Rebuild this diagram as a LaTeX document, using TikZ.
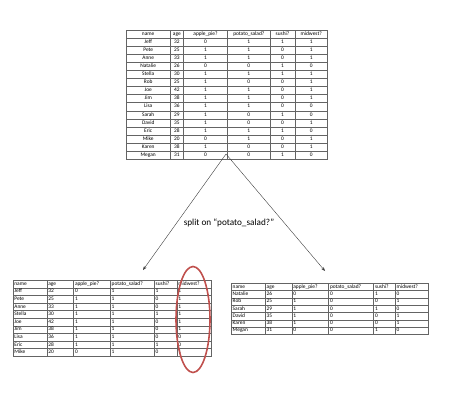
\documentclass[tikz,border=0pt]{standalone}
\usepackage{fontspec}
\setmainfont{Carlito}
\usetikzlibrary{matrix,arrows.meta}

\definecolor{gridgray}{RGB}{100,100,100}
\definecolor{ringred}{RGB}{192,80,77}
\definecolor{arrowgray}{RGB}{60,60,60}

\tikzset{
  datatable/.style={matrix of nodes, inner sep=0pt, outer sep=0pt,
    column sep=-0.4pt, row sep=-0.4pt,
    nodes={draw=gridgray, line width=0.4pt, inner sep=0pt, inner xsep=1.5pt,
      text height=3.7pt, text depth=1.1pt,
      font=\fontsize{5.4}{5.4}\selectfont, anchor=center}},
  cellalign/.style={nodes={align=#1}},
  colw/.style 2 args={column #1/.style={nodes={text width=#2pt-3pt}}},
  splitarrow/.style={draw=arrowgray, line width=0.4pt, -{Stealth[length=4pt,width=3pt]}},
  ring/.style={draw=ringred, line width=1.6pt}
}

\begin{document}
\begin{tikzpicture}[x=1pt, y=-1pt]
  \useasboundingbox (0,0) rectangle (454,404);
  \coordinate (A) at (226,154);
  \coordinate (B) at (143,270);
  \coordinate (C) at (325,271);

  \matrix (all) [datatable, cellalign=center, anchor=north west,
    nodes={minimum height=8.1pt},
    colw={1}{44}, colw={2}{13.3}, colw={3}{44}, colw={4}{42.7}, colw={5}{24.7}, colw={6}{32.6}]
    at (126,29.5) {
    name & age & apple\_pie? & potato\_salad? & sushi? & midwest? \\
    Jeff & 32 & 0 & 1 & 1 & 1 \\
    Pete & 25 & 1 & 1 & 0 & 1 \\
    Anne & 33 & 1 & 1 & 0 & 1 \\
    Natalie & 26 & 0 & 0 & 1 & 0 \\
    Stella & 30 & 1 & 1 & 1 & 1 \\
    Rob & 25 & 1 & 0 & 0 & 1 \\
    Joe & 42 & 1 & 1 & 0 & 1 \\
    Jim & 38 & 1 & 1 & 0 & 1 \\
    Lisa & 36 & 1 & 1 & 0 & 0 \\
    Sarah & 29 & 1 & 0 & 1 & 0 \\
    David & 35 & 1 & 0 & 0 & 1 \\
    Eric & 28 & 1 & 1 & 1 & 0 \\
    Mike & 20 & 0 & 1 & 0 & 1 \\
    Karen & 38 & 1 & 0 & 0 & 1 \\
    Megan & 31 & 0 & 0 & 1 & 0 \\
  };

  \matrix (yes) [datatable, cellalign=left, anchor=north west,
    nodes={minimum height=7.6pt},
    colw={1}{34}, colw={2}{26.6}, colw={3}{36.7}, colw={4}{44}, colw={5}{22.7}, colw={6}{34}]
    at (12.7,280) {
    name & age & apple\_pie? & potato\_salad? & sushi? & midwest? \\
    Jeff & 32 & 0 & 1 & 1 & 1 \\
    Pete & 25 & 1 & 1 & 0 & 1 \\
    Anne & 33 & 1 & 1 & 0 & 1 \\
    Stella & 30 & 1 & 1 & 1 & 1 \\
    Joe & 42 & 1 & 1 & 0 & 1 \\
    Jim & 38 & 1 & 1 & 0 & 1 \\
    Lisa & 36 & 1 & 1 & 0 & 0 \\
    Eric & 28 & 1 & 1 & 1 & 0 \\
    Mike & 20 & 0 & 1 & 0 & 1 \\
  };

  \matrix (no) [datatable, cellalign=left, anchor=north west,
    nodes={minimum height=7.3pt},
    colw={1}{34}, colw={2}{26.7}, colw={3}{36.6}, colw={4}{45}, colw={5}{21.7}, colw={6}{33.3}]
    at (231,283) {
    name & age & apple\_pie? & potato\_salad? & sushi? & midwest? \\
    Natalie & 26 & 0 & 0 & 1 & 0 \\
    Rob & 25 & 1 & 0 & 0 & 1 \\
    Sarah & 29 & 1 & 0 & 1 & 0 \\
    David & 35 & 1 & 0 & 0 & 1 \\
    Karen & 38 & 1 & 0 & 0 & 1 \\
    Megan & 31 & 0 & 0 & 1 & 0 \\
  };

  \node (split) at (229,223) {\fontsize{9.2}{11}\selectfont split on “potato\_salad?”};

  \draw[splitarrow] (A) -- (B);
  \draw[splitarrow] (A) -- (C);

  \draw[ring] (193,319.5) ellipse [x radius=17pt, y radius=53pt];
\end{tikzpicture}
\end{document}
